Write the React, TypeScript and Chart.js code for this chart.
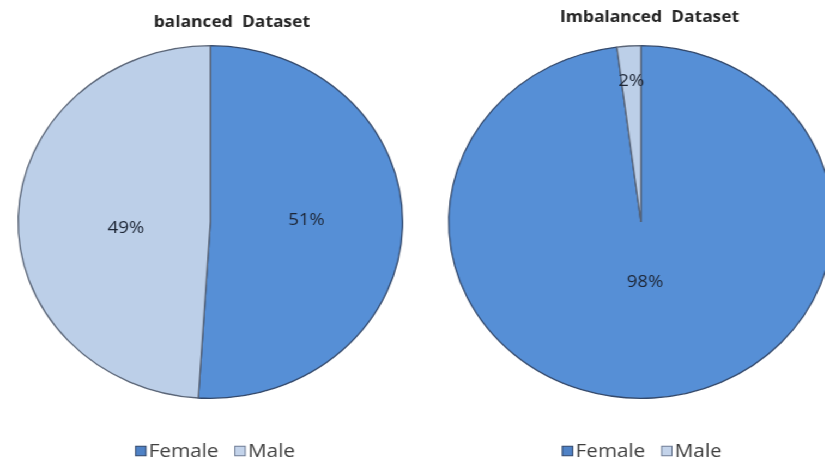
import React, { useEffect, useRef } from "react";
import { Chart, registerables } from "chart.js";

Chart.register(...registerables);

// Data
const categories = ["Female", "Male"];
const balancedValues = [51, 49];
const imbalancedValues = [98, 2];
const balancedTitle = "balanced  Dataset";
const imbalancedTitle = "Imbalanced  Dataset";

const sliceColors = ["#568fd6", "#bccfe8"];
const sliceBorders = ["#34496b", "#5a6577"];
const legendFills = ["#4f82c6", "#c3d3ea"];
const legendStrokes = ["#2f4468", "#6c7a93"];
const FONT = "'Open Sans', 'DejaVu Sans', sans-serif";
const CANVAS_HEIGHT = 463;

// Percentage label inside each slice, placed at a fraction of the radius
// along the slice's middle angle (plus an optional angular nudge in degrees)
const sliceLabelPlugin = {
  id: "sliceLabels",
  afterDatasetsDraw(chart: any, _args: any, opts: any) {
    const { ctx } = chart;
    const meta = chart.getDatasetMeta(0);
    const data = chart.data.datasets[0].data as number[];
    const fractions: number[] = opts.fractions || [];
    const nudges: number[] = opts.nudges || [];
    ctx.save();
    ctx.font = `17px ${FONT}`;
    ctx.fillStyle = "#1d2636";
    ctx.textAlign = "center";
    ctx.textBaseline = "middle";
    meta.data.forEach((arc: any, i: number) => {
      const p = arc.getProps(["x", "y", "startAngle", "endAngle", "outerRadius"], true);
      const mid = (p.startAngle + p.endAngle) / 2 + ((nudges[i] ?? 0) * Math.PI) / 180;
      const r = p.outerRadius * (fractions[i] ?? 0.5);
      ctx.fillText(`${data[i]}%`, p.x + Math.cos(mid) * r, p.y + Math.sin(mid) * r);
    });
    ctx.restore();
  },
};

// Title above the pie and a compact legend below it
const headerLegendPlugin = {
  id: "headerLegend",
  afterDraw(chart: any, _args: any, opts: any) {
    const { ctx, chartArea } = chart;
    const cx = (chartArea.left + chartArea.right) / 2;
    ctx.save();
    // title
    ctx.font = `bold 16px ${FONT}`;
    ctx.fillStyle = "#262626";
    ctx.textAlign = "center";
    ctx.textBaseline = "alphabetic";
    ctx.fillText(opts.title, cx + opts.titleDx, opts.titleBaseline);

    // legend
    const labels: string[] = chart.data.labels;
    const box = 9.5;
    const gap = 2.5;
    const itemGap = 15;
    ctx.font = `19px ${FONT}`;
    const widths = labels.map((t) => box + gap + ctx.measureText(t).width);
    const total = widths.reduce((a, b) => a + b, 0) + itemGap * (labels.length - 1);
    let x = cx + opts.legendDx - total / 2;
    const y = opts.legendY;
    labels.forEach((t, i) => {
      ctx.fillStyle = legendFills[i];
      ctx.fillRect(x, y - box / 2 - 1, box, box);
      ctx.strokeStyle = legendStrokes[i];
      ctx.lineWidth = 1;
      ctx.strokeRect(x, y - box / 2 - 1, box, box);
      ctx.fillStyle = "#404040";
      ctx.textAlign = "left";
      ctx.textBaseline = "middle";
      ctx.fillText(t, x + box + gap, y);
      x += widths[i] + itemGap;
    });
    ctx.restore();
  },
};

function PieChart(props: {
  title: string;
  values: number[];
  width: number;
  sidePad: number;
  fractions: number[];
  nudges: number[];
  titleDx: number;
  titleBaseline: number;
  legendDx: number;
}) {
  const ref = useRef<HTMLCanvasElement>(null);
  useEffect(() => {
    if (!ref.current) return;
    const chart = new Chart(ref.current, {
      type: "pie",
      data: {
        labels: categories,
        datasets: [
          {
            data: props.values,
            backgroundColor: sliceColors,
            borderColor: sliceBorders,
            borderWidth: 1.3,
          },
        ],
      },
      options: {
        animation: false,
        responsive: false,
        events: [],
        layout: {
          padding: { left: props.sidePad, right: props.sidePad, top: 40, bottom: 59 },
        },
        plugins: {
          title: { display: false },
          legend: { display: false },
          tooltip: { enabled: false },
          sliceLabels: { fractions: props.fractions, nudges: props.nudges },
          headerLegend: {
            title: props.title,
            titleDx: props.titleDx,
            titleBaseline: props.titleBaseline,
            legendDx: props.legendDx,
            legendY: 452,
          },
        } as any,
      },
      plugins: [sliceLabelPlugin, headerLegendPlugin],
    });
    return () => chart.destroy();
  }, []);
  return (
    <canvas
      ref={ref}
      width={props.width}
      height={CANVAS_HEIGHT}
      style={{ display: "block", width: props.width, height: CANVAS_HEIGHT }}
    />
  );
}

export default function App() {
  return (
    <div
      style={{
        position: "fixed",
        left: 0,
        top: 0,
        width: 825,
        height: 463,
        overflow: "hidden",
        background: "#ffffff",
      }}
    >
      <div
        style={{
          display: "flex",
          width: 790,
          transform: "scaleX(1.09)",
          transformOrigin: "0 0",
        }}
      >
        <PieChart
          title={balancedTitle}
          values={balancedValues}
          width={386}
          sidePad={16}
          fractions={[0.5, 0.44]}
          nudges={[-3, -6]}
          titleDx={19.7}
          titleBaseline={27}
          legendDx={4.5}
        />
        <PieChart
          title={imbalancedTitle}
          values={imbalancedValues}
          width={404}
          sidePad={25}
          fractions={[0.34, 0.8]}
          nudges={[0, 0]}
          titleDx={8}
          titleBaseline={22}
          legendDx={1}
        />
      </div>
    </div>
  );
}
